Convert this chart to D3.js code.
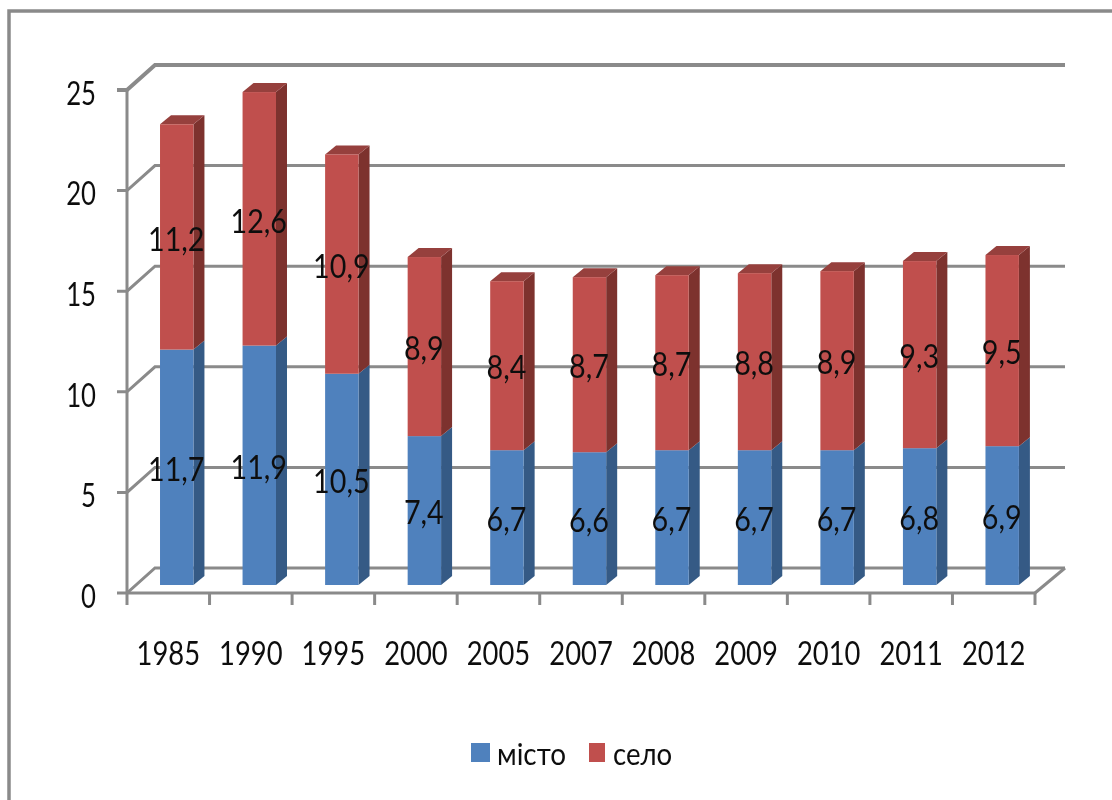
<!DOCTYPE html>
<html><head><meta charset="utf-8">
<script src="https://cdn.jsdelivr.net/npm/d3@7/dist/d3.min.js"></script>
<style>html,body{margin:0;background:#fff}svg{display:block}text{font-family:Lato,"Open Sans",sans-serif;fill:#111}</style>
</head><body><svg id="c" width="1112" height="800"></svg>
<script>
const categories=["1985","1990","1995","2000","2005","2007","2008","2009","2010","2011","2012"];
const misto=[11.7,11.9,10.5,7.4,6.7,6.6,6.7,6.7,6.7,6.8,6.9];
const selo=[11.2,12.6,10.9,8.9,8.4,8.7,8.7,8.8,8.9,9.3,9.5];
const seriesNames=["місто","село"];
const yTicks=[0,5,10,15,20,25];

const svg=d3.select("#c");
const defs=svg.append("defs");
defs.append("filter").attr("id","soft").attr("x","-5%").attr("y","-5%").attr("width","110%").attr("height","110%")
  .append("feGaussianBlur").attr("stdDeviation",0.7);
const root=svg.append("g").attr("filter","url(#soft)");

const x=d3.scaleBand().domain(categories).range([127,1035]);
const y=d3.scaleLinear().domain([0,25]).range([593,90]);
const depthX=28,depthY=25;
const barW=x.bandwidth()*0.405, barOff=x.bandwidth()*0.4, barLift=8, sideX=11, sideY=9;
const grey="#8a8a8a";

// frame
root.append("path").attr("d","M9,800V11H1112").attr("fill","none").attr("stroke",grey).attr("stroke-width",3.5);

// walls
const grid=root.append("g").attr("fill","none").attr("stroke",grey);
yTicks.forEach(t=>{
  const py=y(t);
  grid.append("path").attr("stroke-width",t===25?4:3)
    .attr("d",d3.line()([[117,py],[127,py],[127+depthX,py-depthY],[1065,py-depthY]]));
});
grid.append("line").attr("x1",127).attr("x2",127).attr("y1",y(25)).attr("y2",y(0)).attr("stroke-width",3);
grid.append("line").attr("x1",127).attr("x2",1035).attr("y1",y(0)).attr("y2",y(0)).attr("stroke-width",3);
grid.append("line").attr("x1",1035).attr("x2",1065).attr("y1",y(0)).attr("y2",y(0)-depthY).attr("stroke-width",3);
[...categories.map(c=>x(c)),1035].forEach(px=>{
  grid.append("line").attr("x1",px).attr("x2",px).attr("y1",y(0)).attr("y2",y(0)+12).attr("stroke-width",3);
});

// bars
const colors=[{f:"#4f81bd",s:"#345a85",t:"#3f6797"},{f:"#c0504d",s:"#7d322f",t:"#963f3c"}];
const stacks=d3.stack().keys([0,1]).value((d,k)=>d[k])(categories.map((c,i)=>[misto[i],selo[i]]));
stacks.forEach((st,k)=>{
  const g=root.append("g");
  const col=colors[k];
  st.forEach((d,i)=>{
    const l=x(categories[i])+barOff, r=l+barW;
    const b=y(d[0])-barLift, tp=y(d[1])-barLift;
    g.append("path").attr("fill",col.s).attr("d",`M${r},${b}L${r+sideX},${b-sideY}V${tp-sideY}L${r},${tp}Z`);
    if(k===1) g.append("path").attr("fill",col.t).attr("d",`M${l},${tp}L${l+sideX},${tp-sideY}H${r+sideX}L${r},${tp}Z`);
    g.append("rect").attr("x",l).attr("y",tp).attr("width",barW).attr("height",b-tp).attr("fill",col.f);
  });
});

function label(sel,px,py,txt,anchor,size,sx){
  return sel.append("text").attr("transform",`translate(${px},${py}) scale(${sx},1)`)
    .attr("text-anchor",anchor).attr("dominant-baseline","central").attr("font-size",size).text(txt);
}
const fmt=v=>String(v.toFixed(1)).replace(".",",");
// data labels
stacks.forEach(st=>st.forEach((d,i)=>{
  const cx=x(categories[i])+barOff+barW/2-0.5;
  const cy=y((d[0]+d[1])/2)-barLift+1;
  label(root,cx,cy,fmt(d[1]-d[0]),"middle",33,0.87);
}));
// axes labels
yTicks.forEach(t=>label(root,96,y(t)+2,String(t),"end",33,0.78));
categories.forEach(c=>label(root,x(c)+x.bandwidth()/2,652,c,"middle",33,0.83));
// legend
const lx=[471,589], lw=[19,16], tx=[497,613];
seriesNames.forEach((n,k)=>{
  root.append("rect").attr("x",lx[k]).attr("y",743).attr("width",lw[k]).attr("height",19).attr("fill",colors[k].f);
  label(root,tx[k],753,n,"start",31,k?0.89:0.9);
});
</script></body></html>
